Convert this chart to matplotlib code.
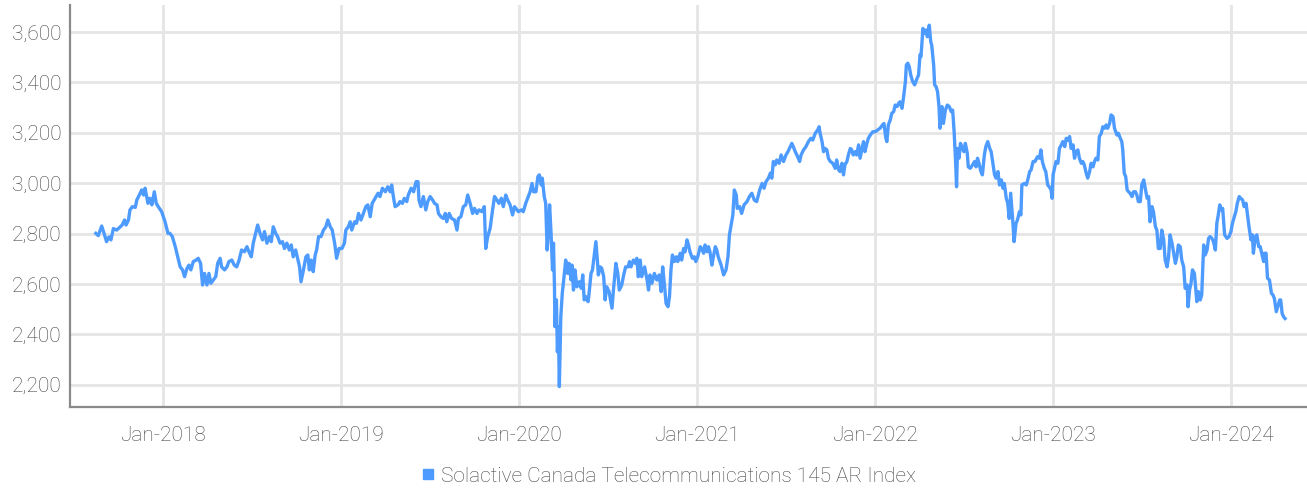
import pandas as pd
import matplotlib
matplotlib.use("Agg")
import matplotlib.pyplot as plt
import matplotlib.dates as mdates
from matplotlib.lines import Line2D
from matplotlib.ticker import StrMethodFormatter, MultipleLocator

BASE_DATE = "2018-01-01"
SERIES_NAME = "Solactive Canada Telecommunications 145 AR Index"

# observation dates, as days from BASE_DATE
days = [
    -138, -133, -126, -121, -116, -111, -107, -102, -95, -88,
    -84, -79, -76, -71, -68, -63, -57, -54, -47, -44,
    -40, -37, -31, -27, -23, -18, -14, -10, -3, 4,
    10, 14, 19, 25, 30, 35, 40, 44, 49, 53,
    57, 62, 68, 72, 77, 81, 85, 90, 94, 98,
    103, 108, 112, 117, 120, 126, 131, 135, 141, 146,
    151, 156, 161, 167, 172, 176, 181, 185, 190, 194,
    199, 204, 208, 213, 218, 222, 226, 231, 235, 240,
    245, 249, 254, 259, 263, 267, 272, 276, 280, 283,
    288, 293, 297, 300, 304, 308, 312, 315, 319, 324,
    329, 334, 338, 343, 347, 352, 356, 361, 367, 372,
    375, 380, 384, 387, 393, 397, 401, 406, 411, 416,
    420, 425, 429, 435, 441, 445, 450, 456, 461, 466,
    469, 473, 476, 482, 486, 491, 495, 500, 503, 509,
    514, 519, 523, 525, 529, 534, 539, 543, 548, 553,
    557, 562, 565, 570, 575, 579, 582, 587, 592, 598,
    603, 606, 611, 616, 621, 625, 630, 635, 639, 644,
    648, 654, 659, 662, 666, 671, 676, 680, 685, 689,
    694, 698, 703, 707, 712, 717, 721, 729, 735, 739,
    744, 748, 753, 757, 760, 765, 769, 772, 776, 778,
    782, 785, 788, 791, 793, 796, 799, 801, 803, 804,
    807, 809, 811, 813, 816, 819, 823, 826, 830, 833,
    837, 839, 842, 845, 849, 854, 858, 861, 864, 867,
    872, 874, 878, 881, 885, 888, 891, 893, 897, 900,
    904, 907, 910, 915, 921, 924, 929, 933, 936, 941,
    945, 949, 954, 957, 960, 965, 969, 972, 975, 979,
    982, 988, 993, 996, 999, 1003, 1008, 1013, 1018, 1022,
    1025, 1029, 1032, 1036, 1039, 1042, 1045, 1049, 1053, 1056,
    1061, 1064, 1068, 1071, 1075, 1078, 1081, 1086, 1090, 1093,
    1097, 1102, 1105, 1109, 1112, 1116, 1119, 1122, 1126, 1129,
    1133, 1136, 1139, 1145, 1150, 1155, 1159, 1162, 1169, 1172,
    1176, 1178, 1183, 1187, 1192, 1198, 1203, 1208, 1213, 1218,
    1224, 1229, 1233, 1237, 1242, 1246, 1249, 1252, 1256, 1259,
    1264, 1268, 1273, 1278, 1282, 1287, 1290, 1293, 1297, 1302,
    1306, 1309, 1314, 1319, 1324, 1329, 1333, 1338, 1343, 1346,
    1348, 1352, 1355, 1358, 1362, 1365, 1369, 1374, 1379, 1382,
    1386, 1389, 1393, 1396, 1399, 1403, 1406, 1410, 1413, 1416,
    1420, 1423, 1427, 1430, 1434, 1437, 1440, 1444, 1447, 1451,
    1456, 1461, 1466, 1471, 1476, 1479, 1483, 1485, 1488, 1492,
    1495, 1499, 1502, 1506, 1509, 1512, 1516, 1519, 1523, 1525,
    1528, 1531, 1534, 1538, 1542, 1547, 1550, 1553, 1555, 1559,
    1562, 1566, 1568, 1572, 1575, 1577, 1581, 1583, 1586, 1589,
    1592, 1594, 1598, 1601, 1605, 1609, 1613, 1617, 1620, 1623,
    1626, 1628, 1630, 1633, 1636, 1640, 1643, 1646, 1650, 1652,
    1656, 1661, 1665, 1668, 1671, 1674, 1678, 1681, 1685, 1688,
    1692, 1696, 1699, 1703, 1706, 1709, 1713, 1716, 1720, 1723,
    1726, 1730, 1733, 1736, 1739, 1743, 1746, 1750, 1753, 1757,
    1760, 1762, 1767, 1771, 1774, 1778, 1781, 1785, 1789, 1794,
    1798, 1801, 1804, 1808, 1811, 1815, 1818, 1822, 1824, 1826,
    1829, 1832, 1836, 1839, 1843, 1846, 1850, 1853, 1856, 1860,
    1863, 1867, 1870, 1873, 1877, 1880, 1884, 1887, 1890, 1894,
    1897, 1901, 1904, 1908, 1911, 1914, 1918, 1921, 1925, 1928,
    1932, 1935, 1938, 1942, 1945, 1949, 1952, 1957, 1960, 1964,
    1967, 1969, 1972, 1975, 1978, 1981, 1984, 1988, 1991, 1995,
    1998, 2001, 2005, 2008, 2012, 2015, 2019, 2022, 2025, 2029,
    2032, 2036, 2039, 2042, 2046, 2049, 2053, 2056, 2060, 2063,
    2066, 2070, 2073, 2077, 2080, 2083, 2087, 2090, 2094, 2097,
    2101, 2103, 2106, 2109, 2112, 2116, 2119, 2121, 2124, 2128,
    2131, 2135, 2138, 2142, 2145, 2148, 2152, 2155, 2159, 2162,
    2165, 2168, 2171, 2174, 2178, 2183, 2187, 2191, 2194, 2198,
    2201, 2204, 2208, 2211, 2215, 2218, 2222, 2225, 2228, 2232,
    2235, 2237, 2241, 2244, 2248, 2251, 2254, 2258, 2260, 2263,
    2266, 2270, 2274, 2277, 2280, 2284, 2287, 2291, 2293, 2296,
    2299, 2302,
]

index_level = [
    2801, 2792, 2830, 2800, 2768, 2787, 2775, 2820, 2814, 2827,
    2834, 2854, 2834, 2854, 2894, 2907, 2904, 2933, 2960, 2973,
    2953, 2980, 2920, 2940, 2914, 2966, 2920, 2907, 2887, 2847,
    2801, 2801, 2788, 2748, 2708, 2668, 2656, 2629, 2662, 2675,
    2656, 2689, 2695, 2702, 2682, 2596, 2642, 2596, 2642, 2603,
    2616, 2629, 2682, 2702, 2668, 2656, 2668, 2689, 2695, 2675,
    2668, 2695, 2735, 2728, 2748, 2728, 2708, 2762, 2801, 2834,
    2801, 2775, 2808, 2762, 2788, 2768, 2827, 2801, 2788, 2762,
    2768, 2741, 2762, 2735, 2755, 2708, 2735, 2702, 2668, 2609,
    2656, 2708, 2715, 2656, 2695, 2649, 2715, 2735, 2788, 2788,
    2814, 2827, 2854, 2827, 2814, 2762, 2702, 2741, 2741, 2762,
    2814, 2827, 2847, 2814, 2847, 2841, 2880, 2854, 2880, 2907,
    2914, 2867, 2920, 2940, 2960, 2947, 2980, 2966, 2986, 2966,
    2993, 2940, 2907, 2914, 2927, 2920, 2940, 2927, 2953, 2980,
    2966, 3006, 3006, 2933, 2907, 2947, 2894, 2927, 2947, 2933,
    2920, 2914, 2880, 2867, 2860, 2880, 2847, 2880, 2860, 2854,
    2814, 2860, 2867, 2907, 2914, 2953, 2920, 2880, 2900, 2880,
    2894, 2887, 2907, 2741, 2788, 2821, 2894, 2947, 2933, 2920,
    2940, 2907, 2953, 2933, 2914, 2874, 2907, 2887, 2894, 2887,
    2920, 2940, 2966, 2999, 2966, 2966, 3026, 3033, 2993, 3020,
    2947, 2920, 2735, 2827, 2914, 2801, 2656, 2762, 2589, 2431,
    2537, 2331, 2431, 2193, 2470, 2563, 2636, 2695, 2642, 2682,
    2616, 2675, 2576, 2656, 2589, 2609, 2583, 2636, 2537, 2550,
    2530, 2563, 2642, 2656, 2722, 2768, 2695, 2636, 2668, 2662,
    2629, 2537, 2589, 2570, 2504, 2576, 2682, 2642, 2576, 2596,
    2636, 2668, 2668, 2689, 2668, 2695, 2682, 2702, 2629, 2695,
    2629, 2668, 2616, 2576, 2636, 2603, 2642, 2616, 2636, 2570,
    2668, 2589, 2523, 2510, 2550, 2656, 2715, 2689, 2708, 2689,
    2722, 2695, 2741, 2728, 2775, 2755, 2728, 2702, 2708, 2689,
    2708, 2748, 2741, 2722, 2755, 2728, 2748, 2728, 2675, 2708,
    2748, 2735, 2708, 2675, 2636, 2656, 2708, 2795, 2874, 2973,
    2953, 2900, 2907, 2880, 2914, 2927, 2947, 2960, 2933, 2927,
    2973, 2999, 2980, 3006, 3020, 3040, 3020, 3086, 3073, 3092,
    3079, 3112, 3086, 3112, 3125, 3145, 3158, 3145, 3125, 3105,
    3086, 3112, 3132, 3145, 3165, 3178, 3171, 3198, 3211, 3224,
    3198, 3165, 3125, 3138, 3132, 3099, 3086, 3079, 3059, 3092,
    3053, 3046, 3079, 3033, 3073, 3086, 3112, 3138, 3132, 3112,
    3125, 3112, 3152, 3099, 3138, 3165, 3125, 3158, 3178, 3191,
    3204, 3204, 3211, 3218, 3231, 3237, 3178, 3165, 3231, 3251,
    3277, 3284, 3310, 3304, 3317, 3323, 3297, 3337, 3403, 3469,
    3476, 3462, 3429, 3403, 3390, 3416, 3429, 3509, 3502, 3614,
    3594, 3608, 3581, 3627, 3562, 3548, 3469, 3390, 3383, 3363,
    3304, 3218, 3304, 3237, 3290, 3310, 3304, 3284, 3290, 3204,
    3086, 2986, 3138, 3099, 3158, 3138, 3125, 3158, 3119, 3065,
    3059, 3073, 3086, 3065, 3099, 3079, 3046, 3033, 3112, 3145,
    3165, 3138, 3125, 3073, 3033, 3020, 3046, 2993, 3013, 2980,
    2999, 2940, 2920, 2860, 2960, 2860, 2768, 2841, 2854, 2887,
    2874, 2993, 2999, 2993, 3013, 3046, 3053, 3086, 3086, 3105,
    3099, 3132, 3086, 3059, 3046, 2993, 2986, 2973, 2940, 3033,
    3059, 3086, 3079, 3138, 3152, 3165, 3145, 3178, 3171, 3185,
    3138, 3152, 3099, 3125, 3132, 3099, 3079, 3086, 3073, 3040,
    3020, 3046, 3079, 3065, 3086, 3099, 3092, 3185, 3198, 3224,
    3218, 3231, 3218, 3237, 3271, 3264, 3218, 3191, 3198, 3178,
    3165, 3132, 3040, 3026, 2973, 2966, 2960, 2947, 2966, 2966,
    2953, 2927, 2927, 2993, 3013, 2980, 2940, 2947, 2847, 2907,
    2887, 2827, 2814, 2741, 2741, 2814, 2775, 2695, 2668, 2708,
    2795, 2762, 2728, 2682, 2708, 2755, 2748, 2695, 2668, 2583,
    2596, 2510, 2576, 2603, 2656, 2642, 2576, 2530, 2570, 2537,
    2557, 2755, 2715, 2735, 2781, 2788, 2781, 2768, 2735, 2841,
    2874, 2914, 2894, 2900, 2795, 2781, 2788, 2808, 2841, 2867,
    2887, 2920, 2947, 2940, 2933, 2907, 2920, 2874, 2827, 2775,
    2795, 2722, 2788, 2795, 2748, 2748, 2722, 2689, 2722, 2722,
    2623, 2616, 2563, 2557, 2543, 2490, 2510, 2537, 2537, 2483,
    2470, 2463,
]

LINE_COLOR = "#4d9bff"
TEXT_COLOR = "#444444"
GRID_COLOR = "#e5e5e5"
SPINE_COLOR = "#8a8a8a"

plt.rcParams["font.family"] = ["Roboto", "DejaVu Sans"]
plt.rcParams["font.weight"] = "light"

dates = pd.Timestamp(BASE_DATE) + pd.to_timedelta(days, unit="D")

fig = plt.figure(figsize=(13.07, 4.88), dpi=100)
ax = fig.add_axes([70 / 1307, 1 - 407 / 488, 1 - 70 / 1307, 402 / 488])

ax.plot(dates, index_level, color=LINE_COLOR, linewidth=2.4, solid_joinstyle="round")

ax.set_xlim(pd.Timestamp("2017-06-24"), pd.Timestamp("2024-06-05"))
ax.set_ylim(2112, 3707)

ax.xaxis.set_major_locator(mdates.YearLocator())
ax.xaxis.set_major_formatter(mdates.DateFormatter("%b-%Y"))
ax.yaxis.set_major_locator(MultipleLocator(200))
ax.yaxis.set_major_formatter(StrMethodFormatter("{x:,.0f}"))

ax.grid(True, color=GRID_COLOR, linewidth=2.0)
ax.set_axisbelow(True)
for side in ("top", "right"):
    ax.spines[side].set_visible(False)
for side in ("left", "bottom"):
    ax.spines[side].set_color(SPINE_COLOR)
    ax.spines[side].set_linewidth(1.6)

ax.tick_params(axis="both", length=0, labelsize=15, labelcolor=TEXT_COLOR)
ax.tick_params(axis="x", pad=14)
ax.tick_params(axis="y", pad=6)

handle = Line2D([], [], marker="s", linestyle="none", markersize=7,
                color=LINE_COLOR)
fig.legend([handle], [SERIES_NAME], loc="center",
           bbox_to_anchor=(669 / 1307, 1 - 476 / 488), frameon=False,
           fontsize=15, labelcolor=TEXT_COLOR, handlelength=0.6,
           handletextpad=0.3, borderpad=0)

fig.savefig("out.png", dpi=100)
